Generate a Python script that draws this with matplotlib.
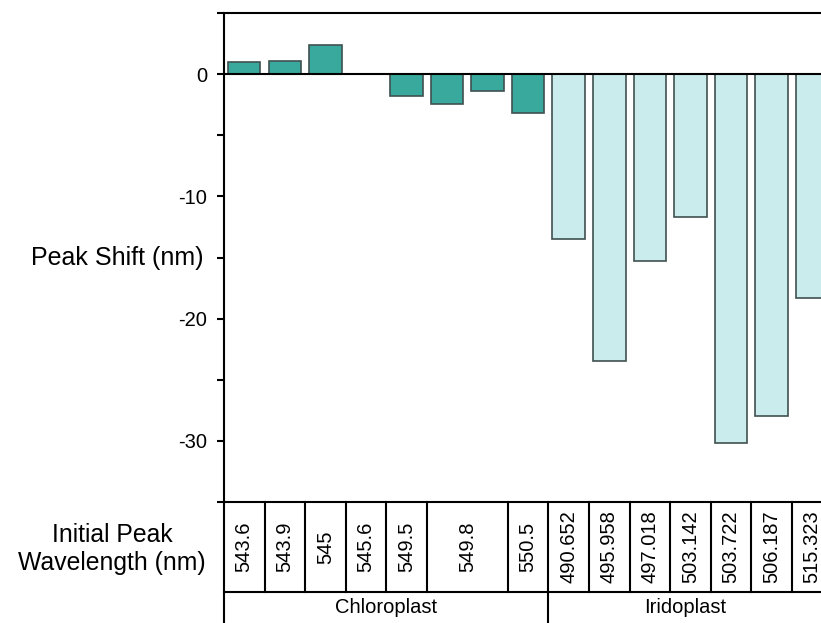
import numpy as np
import matplotlib
matplotlib.use("Agg")
import matplotlib.pyplot as plt

plt.rcParams["font.family"] = ["Liberation Sans", "DejaVu Sans"]

# Peak shifts (nm); None = no measured shift for that sample
chloro_shift = [1.0, 1.05, 2.35, None, -1.8, -2.45, -1.4, -3.15]
irido_shift = [-13.5, -23.45, -15.25, -11.65, -30.15, -28.0, -18.3]

# Initial peak wavelengths, with how many bars each label spans
chloro_wl = ["543.6", "543.9", "545", "545.6", "549.5", "549.8", "550.5"]
chloro_span = [1, 1, 1, 1, 1, 2, 1]
irido_wl = ["490.652", "495.958", "497.018", "503.142", "503.722", "506.187", "515.323"]
irido_span = [1, 1, 1, 1, 1, 1, 1]

groups = ["Chloroplast", "Iridoplast"]

C_DARK = "#38a99c"
C_LIGHT = "#caecec"
EDGE = "#3f5050"
LW = 1.5

fig = plt.figure(figsize=(8.21, 6.23), dpi=100)
ax = fig.add_axes([0.2728, 0.1942, 0.7272, 0.7849])
tab = fig.add_axes([0.2728, 0.0, 0.7272, 0.1942], sharex=ax)

n_c = len(chloro_shift)
x_c = np.arange(n_c)
x_i = np.arange(n_c, n_c + len(irido_shift))

for x, v in zip(x_c, chloro_shift):
    if v is None:
        continue
    ax.bar(x, v, width=0.8, color=C_DARK, edgecolor=EDGE, linewidth=1.2, zorder=2)
ax.bar(x_i, irido_shift, width=0.8, color=C_LIGHT, edgecolor=EDGE, linewidth=1.2, zorder=2)

ax.axhline(0, color="black", lw=LW, zorder=3)
xmax = 14.22
ax.set_xlim(-0.5, xmax)
ax.set_ylim(-35, 5)
ax.set_yticks(np.arange(-35, 6, 5))
ax.set_yticklabels(["" if t % 10 else str(t) for t in np.arange(-35, 6, 5)])
ax.tick_params(axis="y", direction="out", length=5, width=LW, labelsize=14.5, pad=7)
ax.tick_params(axis="x", bottom=False, labelbottom=False)
for side in ["top", "bottom", "left"]:
    ax.spines[side].set_linewidth(LW)
ax.spines["right"].set_visible(False)

ax.text(-0.035, -15, "Peak Shift (nm)", transform=ax.get_yaxis_transform(),
        ha="right", va="center", fontsize=18)

# table under the bars: wavelength row and group row
row_y = 0.256
tab.set_ylim(0, 1)
tab.axis("off")
tab.plot([-0.5, -0.5], [0, 1], color="black", lw=LW, clip_on=False)
tab.plot([-0.5, xmax], [row_y, row_y], color="black", lw=LW, clip_on=False)

left = -0.5
for labels, spans in [(chloro_wl, chloro_span), (irido_wl, irido_span)]:
    for lab, s in zip(labels, spans):
        tab.text(left + s / 2, (1 + row_y) / 2, lab, rotation=90,
                 ha="center", va="center", fontsize=14.5)
        left += s
        tab.plot([left, left], [row_y, 1], color="black", lw=LW, clip_on=False)

split = n_c - 0.5
tab.plot([split, split], [0, row_y], color="black", lw=LW)
tab.text((-0.5 + split) / 2, row_y / 2, groups[0], ha="center", va="center", fontsize=14.5)
tab.text((split + xmax) / 2, row_y / 2, groups[1], ha="center", va="center", fontsize=14.5)

fig.text(112 / 821, 1 - 549 / 623, "Initial Peak\nWavelength (nm)",
         ha="center", va="center", fontsize=17.8, linespacing=1.25)

fig.savefig("out.png", dpi=100)
